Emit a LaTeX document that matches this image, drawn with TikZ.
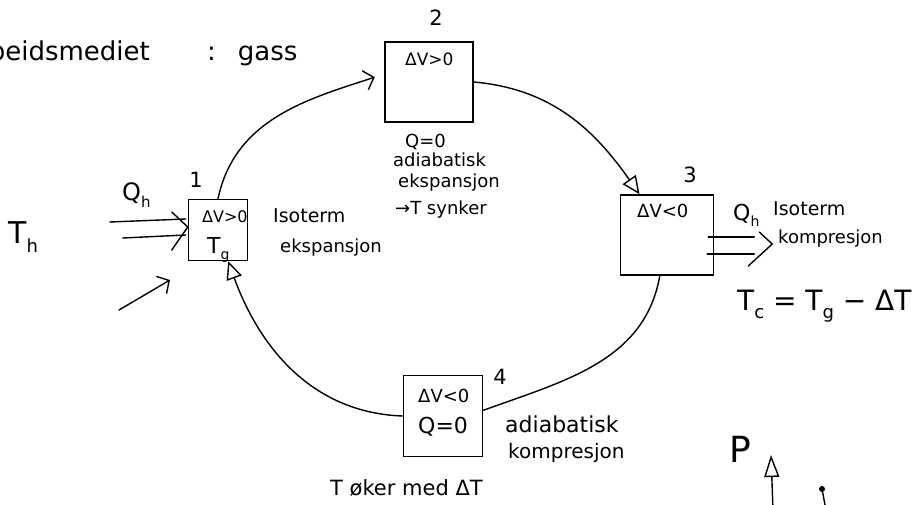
\documentclass[tikz,border=0pt]{standalone}
\usepackage{fontspec}
\setmainfont{DejaVu Sans}
\usetikzlibrary{arrows.meta,calc}
% lowered, smaller index letter: size, text
\newcommand\lowsub[2]{\raisebox{-0.3em}{\fontsize{#1}{#1}\selectfont #2}}
\begin{document}
\begin{tikzpicture}[x=1pt,y=1pt,
  stage/.style={draw, line width=1.5pt, inner sep=0pt},
  conn/.style={line width=1.4pt, line cap=round, line join=round},
  txt/.style={inner sep=0pt, anchor=base west},
  num/.style={inner sep=0pt, font=\fontsize{21}{23}\selectfont},
  fs/.style={font=\fontsize{#1}{#1}\selectfont},
  opentri/.style={-{Triangle[open,length=18pt,width=16pt]}},
  barb/.style={-{Straight Barb[length=9pt,width=20pt]}}
]
\useasboundingbox (0,0) rectangle (915,-504);
\clip (0,0) rectangle (915,-504);

% heading
\node[txt, anchor=base east, fs=26] (medium) at (150,-60) {Arbeidsmediet};
\node[txt, fs=26] (gas) at (207,-60) {{:}\hspace{22pt}gass};

% the four stages of the cycle
\node[stage, minimum width=59pt, minimum height=61pt] (b1) at (218,-230) {};
\node[stage, minimum width=88pt, minimum height=80pt] (b2) at (429,-82) {};
\node[stage, minimum width=93pt, minimum height=80pt] (b3) at (667,-235) {};
\node[stage, minimum width=79pt, minimum height=81pt] (b4) at (443,-416) {};

% stage numbers
\node[num] (n1) at (196,-180) {1};
\node[num] (n2) at (436,-18) {2};
\node[num] (n3) at (690,-175) {3};
\node[num] (n4) at (500,-377) {4};

% stage 1
\node[txt, fs=16] (b1dv) at (202,-222) {ΔV>0};
\node[txt, fs=22] (b1t) at (207,-253) {T\lowsub{14}{g}};
\node[txt, fs=19] (iso1) at (273,-222) {Isoterm};
\node[txt, fs=18] (eks1) at (280,-252) {ekspansjon};
\node[txt, fs=24] (qin) at (122,-200) {Q\lowsub{15}{h}};
\node[txt, fs=30] (th) at (8,-243) {T\lowsub{18}{h}};

% stage 2
\node[txt, fs=17] (b2dv) at (405,-65) {ΔV>0};
\node[txt, fs=18] (q2) at (405,-147) {Q=0};
\node[txt, fs=18] (ad2) at (393,-166) {adiabatisk};
\node[txt, fs=18] (eks2) at (398,-187) {ekspansjon};
\node[txt, fs=18] (syn2) at (395,-214) {→T synker};

% stage 3
\node[txt, fs=18] (b3dv) at (637,-217) {ΔV<0};
\node[txt, fs=22] (qout) at (733,-220) {Q\lowsub{14}{h}};
\node[txt, fs=19] (iso3) at (773,-215) {Isoterm};
\node[txt, fs=18] (kom3) at (778,-243) {kompresjon};
\node[txt, fs=28] (tc) at (737,-310) {T\lowsub{18}{c} = T\lowsub{18}{g} − ΔT};

% stage 4
\node[txt, fs=18] (b4dv) at (418,-402) {ΔV<0};
\node[txt, fs=22] (q4) at (418,-433) {Q=0};
\node[txt, fs=22] (ad4) at (505,-432) {adiabatisk};
\node[txt, fs=20] (kom4) at (508,-458) {kompresjon};
\node[txt, fs=21] (tok) at (330,-495) {T øker med ΔT};

% cycle connectors
\draw[conn, barb, shorten >=10pt] (b1.north) to[out=78,in=198] (b2.170);
\draw[conn, opentri] (b2.east) to[out=-5,in=125] (b3.124);
\draw[conn] (b3.-100) to[out=-100,in=20] (b4.8);
\draw[conn, opentri] (b4.west) to[out=178,in=-70] (b1.-72);

% heat flowing into stage 1
\coordinate (tip1) at ($(b1.west)+(0,3)$);
\draw[conn] ($(b1.west)+(-78,8)$) -- ($(b1.west)+(-2,11)$);
\draw[conn] ($(b1.west)+(-65,-8)$) -- ($(b1.west)+(-2,-5)$);
\draw[conn] ($(tip1)+(-16,15)$) -- (tip1) -- ($(tip1)+(-16,-23)$);
\coordinate (w1) at (119,-310);
\coordinate (w2) at (170,-280);
\draw[conn, barb] (w1) -- (w2);

% heat leaving stage 3
\coordinate (tip3) at ($(b3.east)+(58,-9)$);
\draw[conn] ($(b3.east)+(-6,-2)$) -- ($(b3.east)+(40,-2)$);
\draw[conn] ($(b3.east)+(-7,-19)$) -- ($(b3.east)+(40,-19)$);
\draw[conn] ($(tip3)+(-13,12)$) -- (tip3) -- ($(tip3)+(-24,-22)$);

% pressure axis
\node[txt, fs=36] (p) at (729,-462) {P};
\coordinate (p0) at (773,-510);
\coordinate (p1) at (771,-455);
\draw[conn, -{Triangle[open,length=22pt,width=15pt]}] (p0) -- (p1);
\coordinate (d0) at (822,-489);
\fill (d0) circle (3pt);
\draw[conn] (d0) -- (826,-510);
\end{tikzpicture}
\end{document}
